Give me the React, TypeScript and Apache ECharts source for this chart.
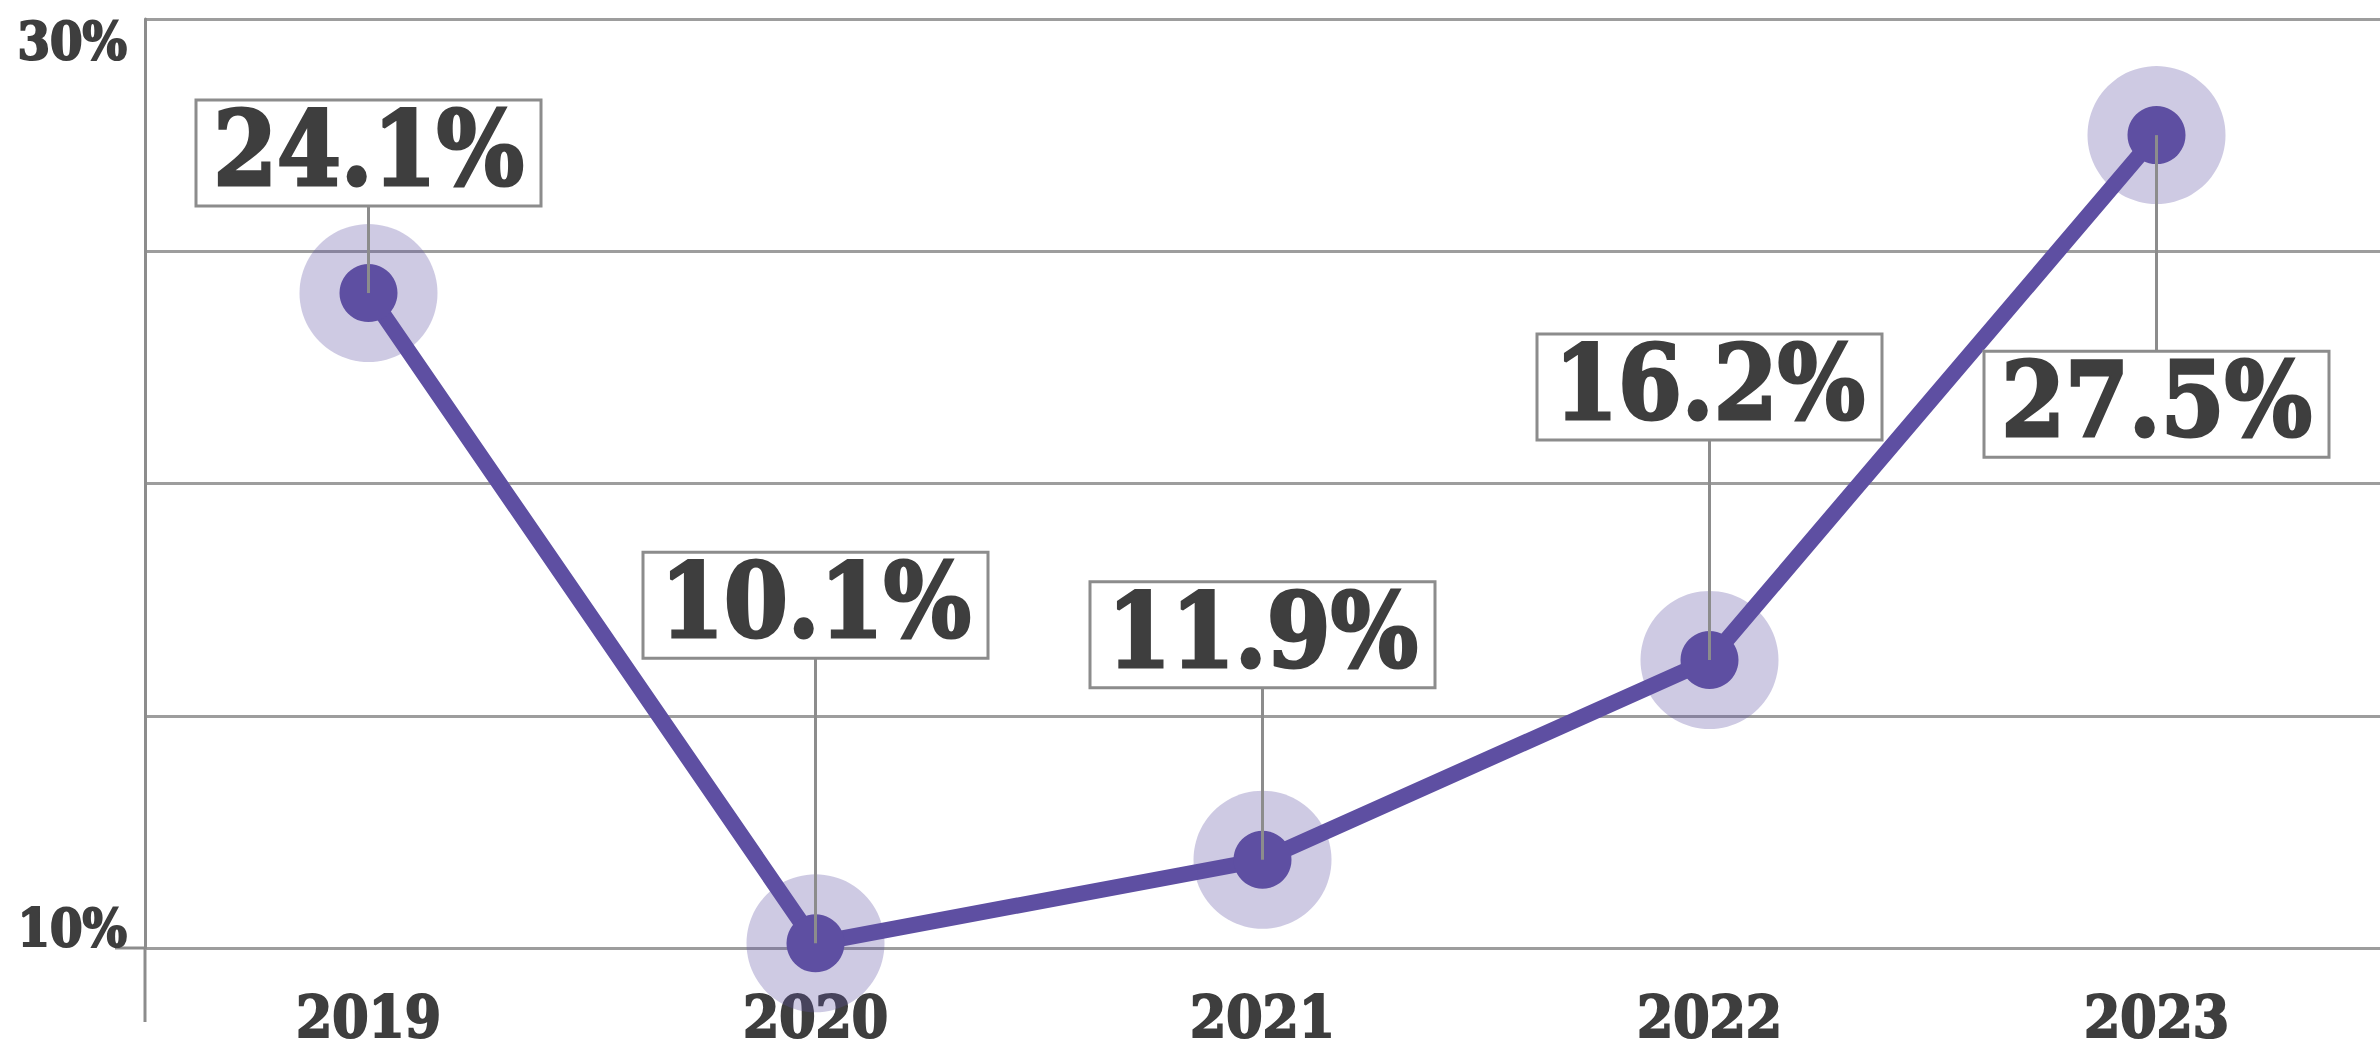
import React, { useEffect, useRef } from "react";
import * as echarts from "echarts";

// ---- data ----
const years = ["2019", "2020", "2021", "2022", "2023"];
const rates = [24.1, 10.1, 11.9, 16.2, 27.5];
const yTickLabels = [10, 30];

// ---- layout (label box vertical offsets from each point, px) ----
const labelDy = [-140, -338, -225, -273, 269];

const FONT = "'DejaVu Serif Condensed', 'DejaVu Serif', serif";
const TEXT = "#3e3e3e";
const PURPLE = "#5e4fa2";
const GREY = "#8c8c8c";

export default function App() {
  const ref = useRef<HTMLDivElement>(null);
  useEffect(() => {
    document.body.style.margin = "0";
    const chart = echarts.init(ref.current!, null, { renderer: "svg" });
    const pts = years.map((y, i) => [y, rates[i]]);
    chart.setOption({
      animation: false,
      backgroundColor: "#ffffff",
      grid: { left: 145, top: 19, width: 2250, bottom: 103, containLabel: false },
      xAxis: {
        type: "category",
        data: years,
        boundaryGap: true,
        axisLine: { show: false },
        axisTick: { show: false },
        axisLabel: {
          margin: 40,
          fontFamily: FONT,
          fontWeight: "bold",
          fontSize: 58,
          color: TEXT,
          textBorderColor: TEXT,
          textBorderWidth: 2,
        },
      },
      yAxis: {
        type: "value",
        min: 10,
        max: 30,
        interval: 5,
        axisLine: { show: true, lineStyle: { color: GREY, width: 3 } },
        axisTick: { show: false },
        splitLine: { lineStyle: { color: "#9d9d9d", width: 3 } },
        axisLabel: {
          margin: 18,
          formatter: (v: number) =>
            yTickLabels.includes(v) ? (v === 30 ? `{t|${v}%}` : `{b|${v}%}`) : "",
          rich: {
            t: {
              fontFamily: FONT, fontWeight: "bold", fontSize: 52, color: TEXT,
              textBorderColor: TEXT, textBorderWidth: 2, padding: [42, 0, 0, 0],
            },
            b: {
              fontFamily: FONT, fontWeight: "bold", fontSize: 52, color: TEXT,
              textBorderColor: TEXT, textBorderWidth: 2, padding: [0, 0, 42, 0],
            },
          },
        },
      },
      graphic: [
        { type: "line", shape: { x1: 145, y1: 948, x2: 145, y2: 1022 }, style: { stroke: GREY, lineWidth: 3 } },
        { type: "line", shape: { x1: 115, y1: 948, x2: 145, y2: 948 }, style: { stroke: GREY, lineWidth: 3 } },
      ],
      series: [
        {
          type: "custom",
          z: 1,
          data: pts,
          encode: { x: 0, y: 1 },
          renderItem: (params: any, api: any) => {
            const p = api.coord([api.value(0), api.value(1)]);
            return {
              type: "circle",
              shape: { cx: p[0], cy: p[1], r: 69 },
              style: { fill: "rgba(94,79,162,0.3)" },
            };
          },
        },
        {
          type: "line",
          z: 2,
          data: rates,
          showSymbol: false,
          symbol: "none",
          lineStyle: { color: PURPLE, width: 16, join: "round", cap: "round" },
        },
        {
          type: "custom",
          z: 3,
          data: pts,
          encode: { x: 0, y: 1 },
          renderItem: (params: any, api: any) => {
            const i = params.dataIndex;
            const v = api.value(1);
            const p = api.coord([api.value(0), v]);
            const dy = labelDy[i];
            const cx = p[0];
            const cy = p[1] + dy;
            const bw = 345;
            const bh = 106;
            const endY = dy < 0 ? cy + bh / 2 : cy - bh / 2;
            return {
              type: "group",
              children: [
                { type: "circle", shape: { cx: p[0], cy: p[1], r: 29 }, style: { fill: PURPLE } },
                {
                  type: "line",
                  shape: { x1: p[0], y1: p[1], x2: cx, y2: endY },
                  style: { stroke: GREY, lineWidth: 3 },
                },
                {
                  type: "rect",
                  shape: { x: cx - bw / 2, y: cy - bh / 2, width: bw, height: bh },
                  style: { fill: "#ffffff", stroke: GREY, lineWidth: 3 },
                },
                {
                  type: "text",
                  x: cx,
                  y: cy - 4,
                  style: {
                    text: `${Number(v).toFixed(1)}%`,
                    fontFamily: FONT,
                    fontWeight: "bold",
                    fontSize: 102,
                    fill: TEXT,
                    stroke: TEXT,
                    lineWidth: 3,
                    align: "center",
                    verticalAlign: "middle",
                  },
                },
              ],
            };
          },
        },
      ],
    });
    return () => chart.dispose();
  }, []);
  return <div ref={ref} style={{ width: 2380, height: 1051 }} />;
}
